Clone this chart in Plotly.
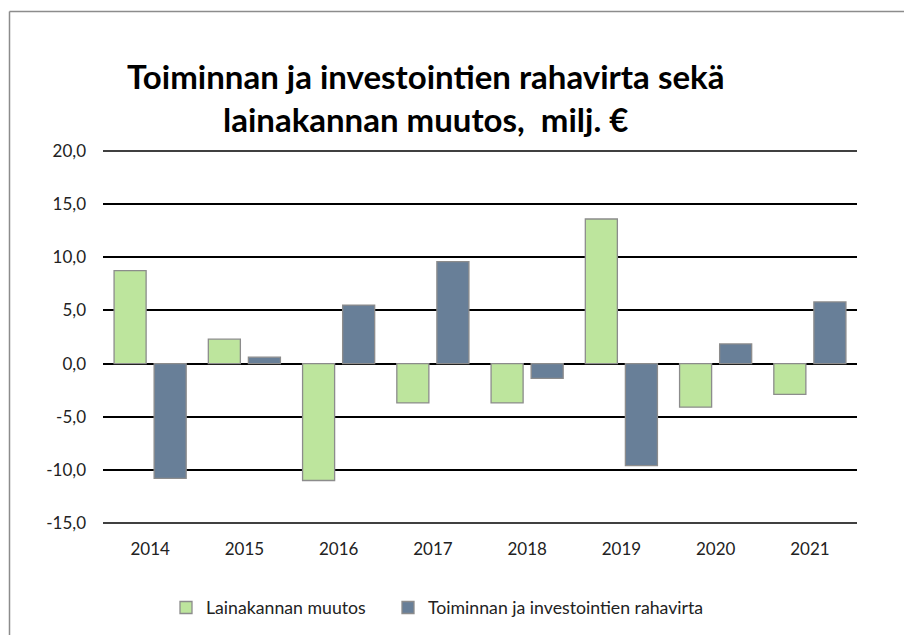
import plotly.graph_objects as go

years = ["2014", "2015", "2016", "2017", "2018", "2019", "2020", "2021"]
lainakanta = [8.75, 2.3, -11.0, -3.7, -3.7, 13.6, -4.1, -2.9]
rahavirta = [-10.8, 0.6, 5.5, 9.6, -1.4, -9.6, 1.85, 5.8]
y_ticks = [-15, -10, -5, 0, 5, 10, 15, 20]
y_tick_labels = ["-15,0", "-10,0", "-5,0", "0,0", "5,0", "10,0", "15,0", "20,0"]

FONT = "Lato"
fig = go.Figure()
fig.add_trace(go.Bar(
    x=years, y=lainakanta, name="Lainakannan muutos", legend="legend",
    marker=dict(color="#BDE59D", line=dict(color="#8C8C8C", width=1.3)),
))
fig.add_trace(go.Bar(
    x=years, y=rahavirta, name="Toiminnan ja investointien rahavirta", legend="legend2",
    marker=dict(color="#687F98", line=dict(color="#8C8C8C", width=1.3)),
))

# page body has an 8px margin; compensate
OFF = 8
L, T = 103 - OFF, 150 - OFF
W, H = 912, 635
pw, ph = 754, 374
R, B = W - L - pw, H - T - ph
pad = 0.094

legend_common = dict(orientation="h", xanchor="left", y=-(608 - 524) / ph, yanchor="middle",
                     font=dict(size=17.7, color="#222"), bgcolor="rgba(0,0,0,0)")

grid_edge_shapes = [
    dict(type="line", xref="paper", yref="y", x0=0, x1=1, y0=v, y1=v,
         line=dict(color="black", width=1.5), layer="below")
    for v in (y_ticks[0], y_ticks[-1])
]

fig.update_layout(
    width=W, height=H,
    margin=dict(l=L, r=R, t=T, b=B),
    paper_bgcolor="white", plot_bgcolor="white",
    barmode="group", bargap=0.15, bargroupgap=0.2,
    font=dict(family=FONT, size=17, color="#222"),
    showlegend=True,
    legend=dict(x=(166 - OFF - L) / pw, **legend_common),
    legend2=dict(x=(388 - OFF - L) / pw, **legend_common),
    xaxis=dict(showgrid=False, showline=False, ticks="", ticklabelstandoff=13,
               tickfont=dict(size=17, color="#222")),
    yaxis=dict(range=[-15 - pad, 20 + pad], tickvals=y_ticks, ticktext=y_tick_labels,
               showgrid=True, gridcolor="black", gridwidth=1.5,
               zeroline=True, zerolinecolor="black", zerolinewidth=1.5,
               showline=False, ticks="", ticklabelstandoff=16,
               tickfont=dict(size=17, color="#222")),
    annotations=[dict(
        text="Toiminnan ja investointien rahavirta sekä<br>lainakannan muutos,  milj. €",
        x=(425 - OFF - L) / pw, y=1 + (T - (97 - OFF)) / ph, xref="paper", yref="paper",
        xanchor="center", yanchor="middle", showarrow=False,
        font=dict(family=FONT, size=33, color="black", weight="bold"),
    )],
    shapes=grid_edge_shapes + [
        dict(type="line", xref="paper", yref="paper",
             x0=(9.5 - OFF - L) / pw, x1=(9.5 - OFF - L) / pw, y0=-1, y1=1 + (T - (11.5 - OFF)) / ph,
             line=dict(color="#8C8C8C", width=1.5)),
        dict(type="line", xref="paper", yref="paper",
             x0=(9.5 - OFF - L) / pw, x1=1.5, y0=1 + (T - (11.5 - OFF)) / ph, y1=1 + (T - (11.5 - OFF)) / ph,
             line=dict(color="#8C8C8C", width=1.5)),
    ],
)
fig.write_html("out.html")
